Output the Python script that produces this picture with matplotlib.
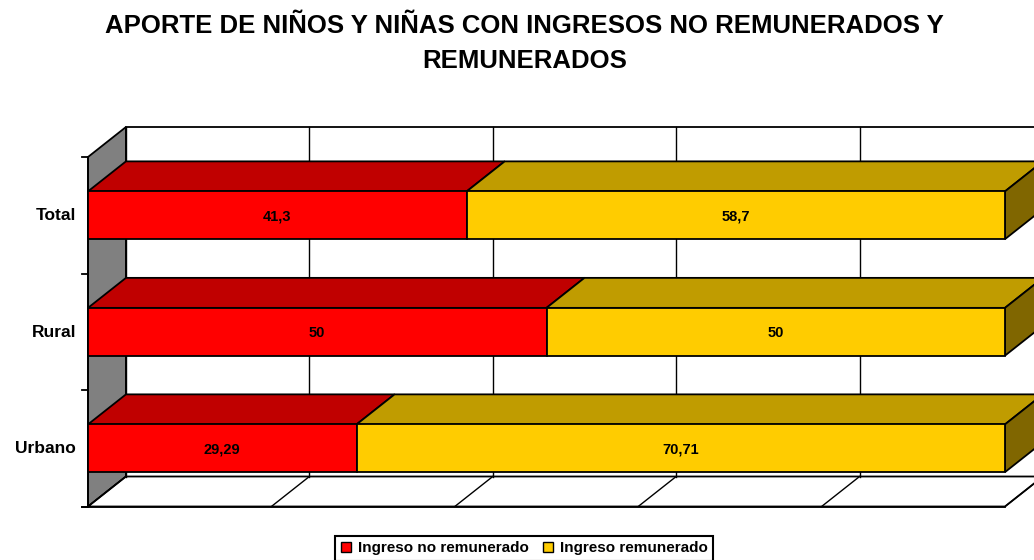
import matplotlib
matplotlib.use("Agg")
import matplotlib.pyplot as plt
from matplotlib.patches import Polygon, Rectangle
from matplotlib.lines import Line2D

plt.rcParams['font.family'] = ['Liberation Sans', 'DejaVu Sans']

# data
categories = ["Urbano", "Rural", "Total"]
no_remunerado = [29.29, 50, 41.3]
remunerado = [70.71, 50, 58.7]
series_names = ["Ingreso no remunerado", "Ingreso remunerado"]
value_labels = [["29,29", "50", "41,3"], ["70,71", "50", "58,7"]]
title_lines = ["APORTE DE NIÑOS Y NIÑAS CON INGRESOS NO REMUNERADOS Y", "REMUNERADOS"]

# colours: front, top, side
front_colors = ["#FF0000", "#FFCC00"]
top_colors = ["#C00000", "#C09C00"]
side_colors = ["#800000", "#806600"]

# 3d look (depth offset in data units)
dx = 4.14
dy = 0.2575
bar_h = 0.41
lw = 1.3

W, H = 1034, 560
fig = plt.figure(figsize=(W / 100, H / 100), dpi=100)
ax = fig.add_axes([0, 0, 1, 1])
ax.axis("off")
px_x = 9.17     # pixels per percent
px_y = 116.5    # pixels per category
ax.set_xlim(-88 / px_x, (W - 88) / px_x)
ax.set_ylim(2.5 - (H - 157) / px_y, 2.5 + 157 / px_y)

y0, y1 = -0.5, len(categories) - 0.5

# left wall
ax.add_patch(Polygon([(0, y0), (0, y1), (dx, y1 + dy), (dx, y0 + dy)],
                     facecolor="#808080", edgecolor="black", lw=lw, zorder=1))
# back wall
ax.add_patch(Rectangle((dx, y0 + dy), 100, y1 - y0, facecolor="white",
                       edgecolor="black", lw=lw, zorder=1))
# floor
ax.add_patch(Polygon([(0, y0), (100, y0), (100 + dx, y0 + dy), (dx, y0 + dy)],
                     facecolor="white", edgecolor="black", lw=lw, zorder=1))
for k in range(0, 101, 20):
    ax.plot([k + dx, k + dx], [y0 + dy, y1 + dy], color="black", lw=1, zorder=2)
    ax.plot([k, k + dx], [y0, y0 + dy], color="black", lw=1, zorder=2)

# axis line and ticks
ax.plot([0, 0], [y0, y1], color="black", lw=lw, zorder=2)
ax.plot([-0.6, 100], [y0, y0], color="black", lw=lw, zorder=2)
for t in range(len(categories) + 1):
    ax.plot([-0.6, 0], [y0 + t, y0 + t], color="black", lw=lw, zorder=2)

# bars
for i, cat in enumerate(categories):
    vals = [no_remunerado[i], remunerado[i]]
    left = 0
    bot, top = i - bar_h / 2, i + bar_h / 2
    for j, v in enumerate(vals):
        right = left + v
        ax.add_patch(Polygon([(left, top), (right, top), (right + dx, top + dy), (left + dx, top + dy)],
                             facecolor=top_colors[j], edgecolor="black", lw=lw, zorder=3))
        ax.add_patch(Rectangle((left, bot), v, bar_h, facecolor=front_colors[j],
                               edgecolor="black", lw=lw, zorder=4))
        if j == len(vals) - 1:
            ax.add_patch(Polygon([(right, bot), (right, top), (right + dx, top + dy), (right + dx, bot + dy)],
                                 facecolor=side_colors[j], edgecolor="black", lw=lw, zorder=3))
        ax.text((left + right) / 2, i - 5 / px_y, value_labels[j][i], ha="center", va="baseline",
                fontsize=10.5, fontweight="bold", zorder=5)
        left = right
    ax.text(-12 / px_x, i - 5 / px_y, cat, ha="right", va="baseline",
            fontsize=12.5, fontweight="bold")

# title
fig.text(524.5 / W, 1 - 33 / H, title_lines[0], ha="center", va="baseline",
         fontsize=18.5, fontweight="bold")
fig.text(524.5 / W, 1 - 68 / H, title_lines[1], ha="center", va="baseline",
         fontsize=18.5, fontweight="bold")

# legend
handles = [Line2D([], [], marker="s", linestyle="none", markersize=6.5,
                  markerfacecolor=c, markeredgecolor="black", markeredgewidth=1)
           for c in front_colors]
leg = fig.legend(handles, series_names, loc="upper center", ncol=2,
                 bbox_to_anchor=(524 / W, 1 - 536 / H), frameon=True, fancybox=False,
                 edgecolor="black", framealpha=1, handlelength=0.7, handletextpad=0.45,
                 columnspacing=0.9, borderpad=0.35, borderaxespad=0,
                 prop={"weight": "bold", "size": 11})
leg.get_frame().set_linewidth(1.5)

fig.savefig("out.png", dpi=100)
